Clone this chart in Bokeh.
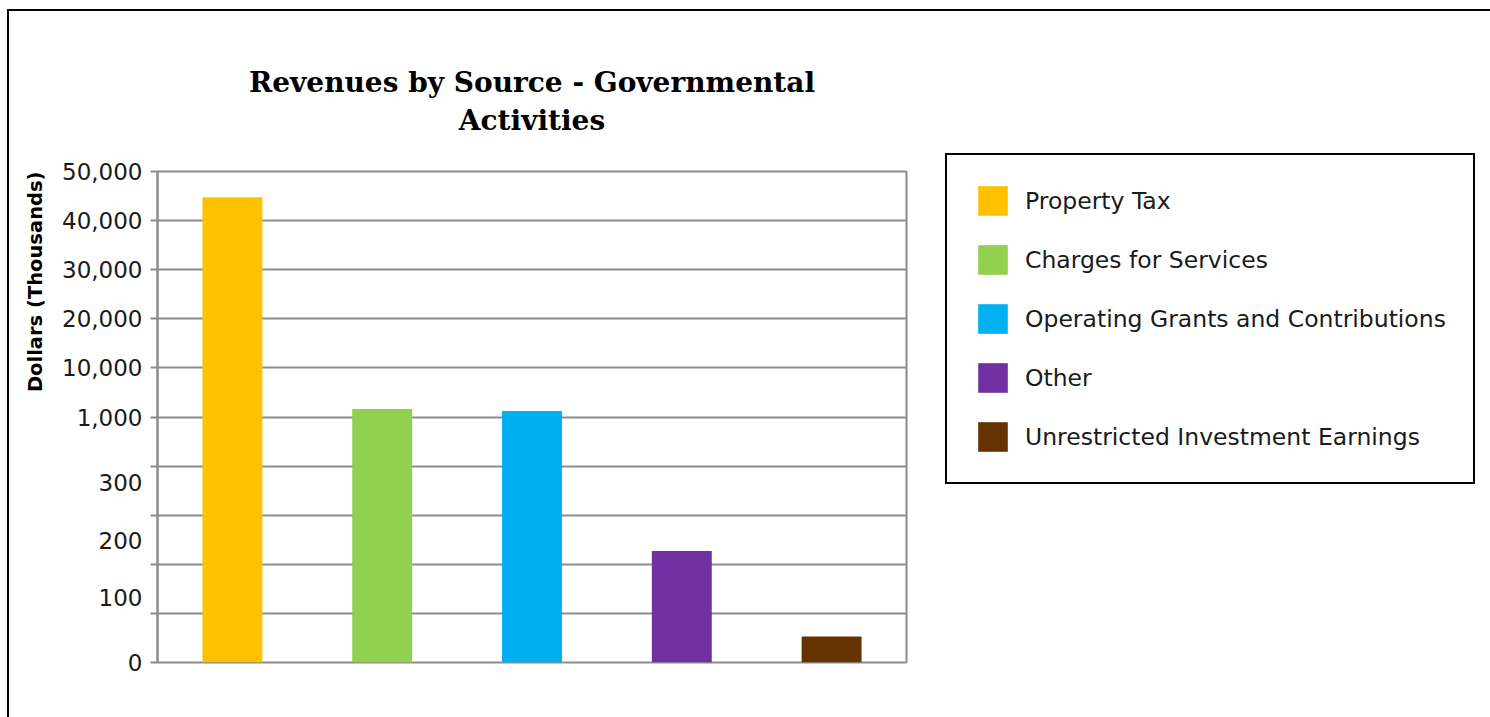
import numpy as np
from bokeh.plotting import figure
from bokeh.models import (ColumnDataSource, FixedTicker, Legend, LegendItem,
                          Range1d, Title)
from bokeh.embed import file_html
from bokeh.resources import INLINE

# ---------------- data ----------------
categories = ["Property Tax", "Charges for Services",
              "Operating Grants and Contributions", "Other",
              "Unrestricted Investment Earnings"]
values = [44750, 2470, 2100, 181, 40]          # dollars (thousands)
colors = ["#FFC000", "#92D050", "#00B0F0", "#7030A0", "#663300"]

tick_values = [0, 100, 200, 300, 1000, 10000, 20000, 30000, 40000, 50000]
tick_labels = ["0", "100", "200", "300", "1,000", "10,000", "20,000",
               "30,000", "40,000", "50,000"]
# broken axis: position of each tick value on the axis
tick_positions = [0, 1.33, 2.49, 3.67, 5, 6, 7, 8, 9, 10]
grid_positions = list(range(11))

title_lines = ["Revenues by Source - Governmental", "Activities"]
y_title = "Dollars (Thousands)"


def to_axis(v):
    return float(np.interp(v, tick_values, tick_positions))


x = [i + 0.5 for i in range(len(categories))]
top = [to_axis(v) for v in values]
source = ColumnDataSource(dict(x=x, top=top, value=values, cat=categories,
                               color=colors))

GRID = "#8c8c8c"
SANS = "DejaVu Sans"
SERIF = "DejaVu Serif"
TXT = "#1a1a1a"

p = figure(frame_width=749, frame_height=491, x_range=Range1d(0, 5),
           y_range=Range1d(0, 10),
           output_backend="svg", toolbar_location=None, x_axis_location=None,
           min_border_left=148, min_border_right=0, min_border_top=160,
           min_border_bottom=55)
p.styles = {"margin-left": "7px", "margin-top": "9px",
            "border-left": "2px solid #000", "border-top": "2px solid #000"}

r = p.vbar(x="x", top="top", bottom=0, width=0.4, color="color", source=source,
           line_color=None)

# y axis
ax = p.yaxis[0]
ax.ticker = FixedTicker(ticks=tick_positions, minor_ticks=grid_positions)
ax.major_label_overrides = {pos: lab for pos, lab in zip(tick_positions, tick_labels)}
ax.major_tick_line_color = None
ax.major_tick_out = 0
ax.major_tick_in = 0
ax.minor_tick_line_color = GRID
ax.minor_tick_line_width = 2
ax.minor_tick_out = 7
ax.minor_tick_in = 0
ax.axis_line_color = GRID
ax.axis_line_width = 2
ax.major_label_standoff = 8
ax.major_label_text_font = SANS
ax.major_label_text_font_size = "23px"
ax.major_label_text_color = TXT

# y-axis title, top-aligned, left of the tick labels
yt = Title(text=y_title, align="right", text_font=SANS, text_font_style="bold",
           text_font_size="19.5px", text_color="#000000", standoff=25, offset=0)
p.add_layout(yt, "left")

p.ygrid.ticker = FixedTicker(ticks=grid_positions)
p.ygrid.grid_line_color = GRID
p.ygrid.grid_line_width = 2
p.xgrid.visible = False
p.outline_line_color = GRID
p.outline_line_width = 2

# title: two centred lines above the frame (a thin spacer keeps them up)
spacer = Title(text="\u00a0", text_font_size="1px", standoff=32)
p.add_layout(spacer, "above")
t2 = Title(text=title_lines[1], align="center", text_font=SERIF,
           text_font_style="bold", text_font_size="28px", text_color="#000000",
           standoff=0)
p.add_layout(t2, "above")
p.title.text = title_lines[0]
p.title.align = "center"
p.title.text_font = SERIF
p.title.text_font_style = "bold"
p.title.text_font_size = "28px"
p.title.text_color = "#000000"
p.title.standoff = 6
p.title.offset = 0

# legend, to the right of the frame
items = [LegendItem(label=c, renderers=[r], index=i) for i, c in enumerate(categories)]
legend = Legend(items=items, location=(39, 178), border_line_color="#000000",
                border_line_width=2, border_line_alpha=1.0, padding=27,
                spacing=22, glyph_width=37, glyph_height=37, label_standoff=14,
                label_text_font=SANS, label_text_font_size="23.5px",
                label_height=37, margin=0, label_text_color=TXT)
p.add_layout(legend, "right")

open("out.html", "w").write(file_html(p, INLINE))
